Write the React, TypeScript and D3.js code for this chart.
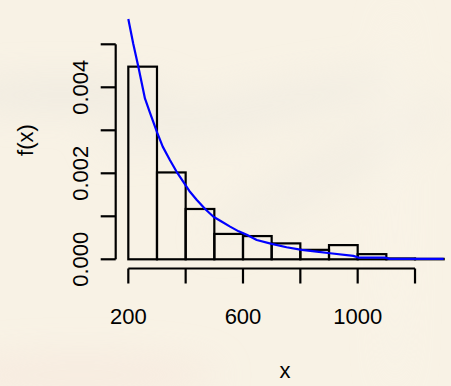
import React from "react";
import * as d3 from "d3";

const binEdges = [200, 300, 400, 500, 600, 700, 800, 900, 1000, 1100, 1200, 1300];
const binDensity = [0.00448, 0.00202, 0.00117, 0.00059, 0.00054, 0.00037, 0.00022, 0.00033, 0.00012, 0.00002, 0.00001];

const curveX = [200, 217, 235, 258, 276, 301, 320, 345, 368, 392, 415, 439, 468, 497, 525, 555, 585, 613, 648, 700, 752, 805, 857, 904, 985, 1002, 1095, 1112, 1300];
const curveY = [0.00559, 0.00502, 0.00448, 0.00374, 0.0034, 0.00294, 0.00262, 0.00231, 0.00204, 0.0018, 0.00157, 0.00138, 0.00117, 0.00099, 0.00088, 0.00076, 0.00065, 0.00057, 0.00045, 0.00036, 0.00028, 0.00022, 0.00018, 0.00014, 0.00008, 0.00004, 0.00004, 0.00001, 0.00001];

const xTicks = [200, 400, 600, 800, 1000, 1200];
const xTickLabels = ["200", "", "600", "", "1000", ""];
const yTicks = [0, 0.001, 0.002, 0.003, 0.004, 0.005];
const yTickLabels = ["0.000", "", "0.002", "", "0.004", ""];

const W = 451;
const H = 386;

export default function App() {
  const x = d3.scaleLinear().domain([156, 1344]).range([115.7, 456.3]);
  const y = d3.scaleLinear().domain([0, 0.005]).range([259.3, 44.3]);
  const font = "'Liberation Sans', Arial, Helvetica, sans-serif";
  const fs = 22;
  const line = d3
    .line<number>()
    .x((_, i) => x(curveX[i]))
    .y((d) => y(d));
  const axisY = 268.5;
  const axisX = 115.7;
  const tickLen = 15;

  return (
    <svg
      width={W}
      height={H}
      style={{ position: "fixed", left: 0, top: 0 }}
      xmlns="http://www.w3.org/2000/svg"
    >
      <defs>
        <filter id="blur" x="-50%" y="-50%" width="200%" height="200%">
          <feGaussianBlur stdDeviation="18" />
        </filter>
      </defs>
      <rect x={0} y={0} width={W} height={H} fill="#f8f2e5" />
      <g filter="url(#blur)" opacity={0.55}>
        <ellipse cx={60} cy={95} rx={120} ry={14} fill="#e6e3dc" />
        <ellipse cx={250} cy={110} rx={160} ry={18} fill="#ece9e1" transform="rotate(-12 250 110)" />
        <ellipse cx={330} cy={170} rx={140} ry={20} fill="#eeeae1" transform="rotate(-30 330 170)" />
        <ellipse cx={80} cy={375} rx={140} ry={18} fill="#f6e4da" />
        <ellipse cx={395} cy={200} rx={8} ry={200} fill="#fbf7ed" />
      </g>

      {binDensity.map((d, i) => (
        <rect
          key={i}
          x={x(binEdges[i])}
          y={y(d)}
          width={x(binEdges[i + 1]) - x(binEdges[i])}
          height={y(0) - y(d)}
          fill="none"
          stroke="#000"
          strokeWidth={2.2}
        />
      ))}

      <path d={line(curveY) || ""} fill="none" stroke="#0000ff" strokeWidth={2.2} strokeLinejoin="round" />

      <line x1={x(xTicks[0])} x2={x(xTicks[xTicks.length - 1])} y1={axisY} y2={axisY} stroke="#000" strokeWidth={2.2} />
      {xTicks.map((t, i) => (
        <g key={t}>
          <line x1={x(t)} x2={x(t)} y1={axisY} y2={axisY + tickLen} stroke="#000" strokeWidth={2.2} />
          {xTickLabels[i] && (
            <text x={x(t)} y={324} textAnchor="middle" fontFamily={font} fontSize={fs} fill="#000">
              {xTickLabels[i]}
            </text>
          )}
        </g>
      ))}

      <line x1={axisX} x2={axisX} y1={y(yTicks[0])} y2={y(yTicks[yTicks.length - 1])} stroke="#000" strokeWidth={2.2} />
      {yTicks.map((t, i) => (
        <g key={t}>
          <line x1={axisX} x2={axisX - tickLen} y1={y(t)} y2={y(t)} stroke="#000" strokeWidth={2.2} />
          {yTickLabels[i] && (
            <text
              transform={`translate(88, ${y(t)}) rotate(-90)`}
              textAnchor="middle"
              fontFamily={font}
              fontSize={fs}
              fill="#000"
            >
              {yTickLabels[i]}
            </text>
          )}
        </g>
      ))}

      <text x={285} y={378} textAnchor="middle" fontFamily={font} fontSize={fs} fill="#000">
        x
      </text>
      <text transform="translate(33, 140) rotate(-90)" textAnchor="middle" fontFamily={font} fontSize={fs} fill="#000">
        f(x)
      </text>
    </svg>
  );
}
